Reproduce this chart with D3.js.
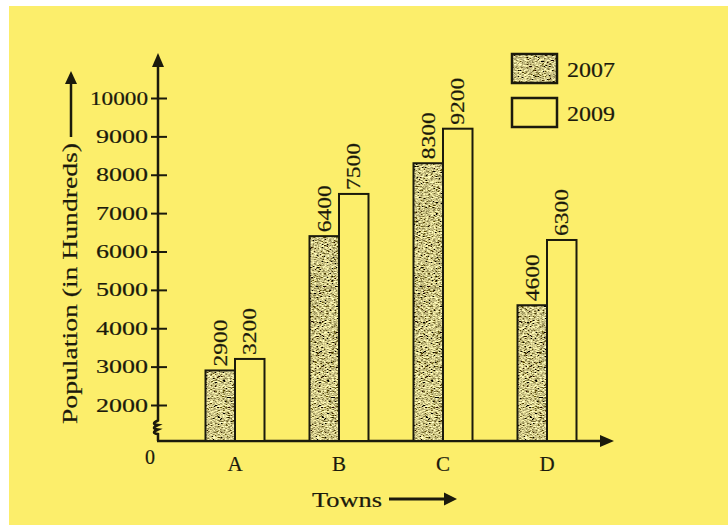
<!DOCTYPE html>
<html>
<head>
<meta charset="utf-8">
<script src="https://cdn.jsdelivr.net/npm/d3@7"></script>
<style>
  html, body { margin: 0; padding: 0; background: #ffffff; }
  svg { display: block; }
  text { font-family: "Liberation Serif", "Times New Roman", serif; fill: #1b1a0c; stroke: #1b1a0c; stroke-width: 0.2px; }
</style>
</head>
<body>
<script>
// Town populations (in hundreds) for two census years
const towns = ["A", "B", "C", "D"];
const years = ["2007", "2009"];
const pop2007 = [2900, 6400, 8300, 4600];
const pop2009 = [3200, 7500, 9200, 6300];
const yTicks = [2000, 3000, 4000, 5000, 6000, 7000, 8000, 9000, 10000];

const W = 728, H = 525;
const ink = "#1b1a0c";
const paper = "#fcee6b";

const svg = d3.select("body").append("svg").attr("width", W).attr("height", H);

// Speckled olive grain used to fill the 2007 bars
const defs = svg.append("defs");
const grain = defs.append("filter").attr("id", "grain")
  .attr("x", 0).attr("y", 0).attr("width", 1).attr("height", 1);
grain.append("feTurbulence").attr("type", "fractalNoise")
  .attr("baseFrequency", "0.4 1.2").attr("numOctaves", 3).attr("seed", 7).attr("result", "noise");
grain.append("feColorMatrix").attr("in", "noise").attr("type", "matrix")
  .attr("values", "1 0 0 0 0  1 0 0 0 0  1 0 0 0 0  0 0 0 0 1").attr("result", "grey");
const ct = grain.append("feComponentTransfer").attr("in", "grey").attr("result", "tint");
ct.append("feFuncR").attr("type", "linear").attr("slope", 2.4).attr("intercept", -0.60);
ct.append("feFuncG").attr("type", "linear").attr("slope", 2.3).attr("intercept", -0.60);
ct.append("feFuncB").attr("type", "linear").attr("slope", 1.2).attr("intercept", -0.36);
grain.append("feComposite").attr("in", "tint").attr("in2", "SourceGraphic").attr("operator", "in");

// Page background with the scanned white margins
svg.append("rect").attr("width", W).attr("height", H).attr("fill", "#ffffff");
svg.append("rect").attr("x", 9).attr("y", 6).attr("width", W - 9).attr("height", H - 6).attr("fill", paper);

// Scales: the value axis is broken below 2000, bars rise from the baseline
const baseY = 441;
const axisX = 158;
const y = d3.scaleLinear().domain([2000, 10000]).range([405, 98]);
const x = d3.scaleBand().domain(towns).range([183, 599]);
const xSub = d3.scaleBand().domain(years).range([0, 59]);
const groupLeft = t => x(t) + x.bandwidth() / 2 - 29.5;

// Stretch serif glyphs to the wide book face used for the labels
const widen = (sel, w) => sel.attr("textLength", w).attr("lengthAdjust", "spacingAndGlyphs");

// Y axis ticks and labels
const yAxis = d3.axisLeft(y).tickValues(yTicks).tickFormat(d3.format("d")).tickSizeOuter(0).tickPadding(4);
const gy = svg.append("g").attr("transform", `translate(${axisX},0)`).call(yAxis);
gy.select(".domain").remove();
gy.selectAll(".tick line").attr("x1", -7).attr("x2", 9).attr("stroke", ink).attr("stroke-width", 2);
gy.selectAll(".tick text")
  .attr("x", -10)
  .style("font-family", '"Liberation Serif", serif')
  .style("font-size", "19px")
  .attr("fill", ink)
  .each(function(d) { widen(d3.select(this), d >= 10000 ? 58 : 52); });

// Y axis line with break marks near the bottom
const brk = d3.path();
brk.moveTo(axisX, baseY);
brk.lineTo(axisX, 434);
for (let i = 0; i < 3; i++) {
  const y0 = 434 - i * 4.5;
  brk.quadraticCurveTo(axisX - 8, y0 - 1, axisX, y0 - 4.5);
}
brk.lineTo(axisX, 64);
svg.append("path").attr("d", brk.toString()).attr("fill", "none")
  .attr("stroke", ink).attr("stroke-width", 2.5);
svg.append("path").attr("d", `M${axisX},53 L${axisX - 6},67 L${axisX + 6},67 Z`).attr("fill", ink);

// X axis line and arrow
svg.append("line").attr("x1", axisX - 1).attr("x2", 602).attr("y1", baseY).attr("y2", baseY)
  .attr("stroke", ink).attr("stroke-width", 2.5);
svg.append("path").attr("d", `M614,${baseY} L600,${baseY - 6} L600,${baseY + 6} Z`).attr("fill", ink);

svg.append("text").attr("x", 150).attr("y", 464).attr("text-anchor", "middle")
  .style("font-size", "20px").text("0");

// Category labels
const xAxis = d3.axisBottom(x).tickSize(0).tickPadding(15);
const gx = svg.append("g").attr("transform", `translate(0,${baseY})`).call(xAxis);
gx.select(".domain").remove();
gx.selectAll(".tick text")
  .style("font-family", '"Liberation Serif", serif')
  .style("font-size", "21px")
  .attr("fill", ink);

// Bars
const rows = towns.map((t, i) => ({ town: t, values: [pop2007[i], pop2009[i]] }));
const groups = svg.append("g").selectAll("g").data(rows).join("g")
  .attr("transform", d => `translate(${groupLeft(d.town)},0)`);

groups.each(function(d) {
  const g = d3.select(this);
  years.forEach((yr, j) => {
    const v = d.values[j];
    const bx = xSub(yr), bw = xSub.bandwidth();
    const top = y(v);
    if (j === 0) {
      g.append("rect").attr("x", bx).attr("y", top).attr("width", bw).attr("height", baseY - top)
        .attr("fill", "#000").attr("filter", "url(#grain)");
    }
    g.append("rect").attr("x", bx).attr("y", top).attr("width", bw).attr("height", baseY - top)
      .attr("fill", j === 0 ? "none" : paper)
      .attr("stroke", ink).attr("stroke-width", 2);
    widen(g.append("text")
      .attr("transform", `translate(${bx + bw / 2},${top - 4}) rotate(-90)`)
      .attr("dominant-baseline", "central")
      .style("font-size", "19px")
      .text(v), 47);
  });
});

// Axis titles
svg.append("text")
  .attr("transform", "translate(70,424) rotate(-90)")
  .attr("dominant-baseline", "central")
  .attr("textLength", 281).attr("lengthAdjust", "spacingAndGlyphs")
  .style("font-size", "21px")
  .text("Population (in Hundreds)");
svg.append("line").attr("x1", 71).attr("x2", 71).attr("y1", 137).attr("y2", 82)
  .attr("stroke", ink).attr("stroke-width", 2.5);
svg.append("path").attr("d", "M71,71 L65,84 L77,84 Z").attr("fill", ink);

svg.append("text").attr("x", 312).attr("y", 507)
  .attr("textLength", 70).attr("lengthAdjust", "spacingAndGlyphs")
  .style("font-size", "21px").text("Towns");
svg.append("line").attr("x1", 389).attr("x2", 446).attr("y1", 499).attr("y2", 499)
  .attr("stroke", ink).attr("stroke-width", 3);
svg.append("path").attr("d", "M457,499 L444,492.5 L444,505.5 Z").attr("fill", ink);

// Legend
const legend = svg.append("g").attr("transform", "translate(512,54)");
years.forEach((yr, j) => {
  const ly = j * 44;
  if (j === 0) {
    legend.append("rect").attr("x", 0).attr("y", ly).attr("width", 45).attr("height", 29)
      .attr("fill", "#000").attr("filter", "url(#grain)");
  }
  legend.append("rect").attr("x", 0).attr("y", ly).attr("width", 45).attr("height", 29)
    .attr("fill", j === 0 ? "none" : paper).attr("stroke", ink).attr("stroke-width", 2.5);
  widen(legend.append("text").attr("x", 55).attr("y", ly + 15).attr("dominant-baseline", "central")
    .style("font-size", "22px").text(yr), 48);
});
</script>
</body>
</html>
